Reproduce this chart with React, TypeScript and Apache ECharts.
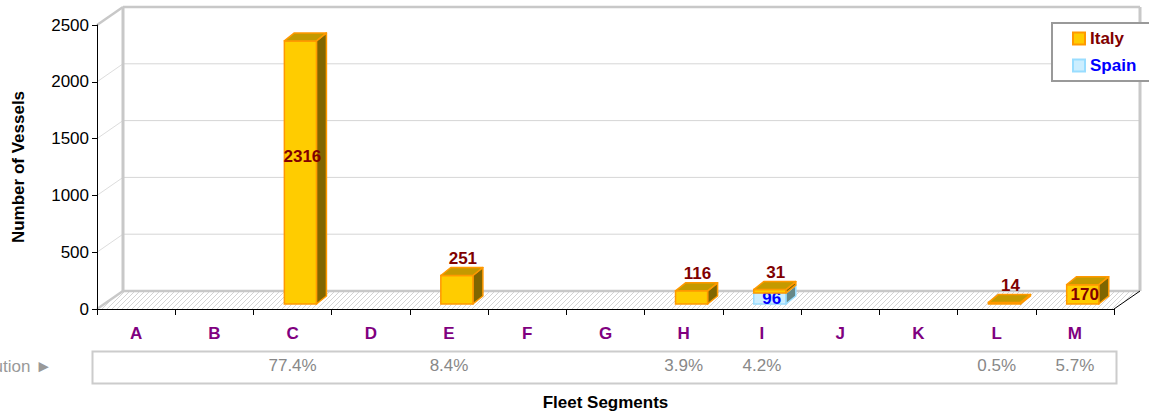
import React, { useEffect, useRef } from 'react';
import * as echarts from 'echarts';

const categories = ['A', 'B', 'C', 'D', 'E', 'F', 'G', 'H', 'I', 'J', 'K', 'L', 'M'];
const italyValues = [0, 0, 2316, 0, 251, 0, 0, 116, 31, 0, 0, 14, 170];
const spainValues = [0, 0, 0, 0, 0, 0, 0, 0, 96, 0, 0, 0, 0];
const italyLabelPlacement = ['', '', 'inside', '', 'top', '', '', 'top', 'top', '', '', 'top', 'inside'];
const spainLabelPlacement = ['', '', '', '', '', '', '', '', 'inside', '', '', '', ''];
const distribution = ['', '', '77.4%', '', '8.4%', '', '', '3.9%', '4.2%', '', '', '0.5%', '5.7%'];
const yTicks = [0, 500, 1000, 1500, 2000, 2500];

const FONT = '"Liberation Sans", Arial, Helvetica, sans-serif';
const FS = 17;
const DX = 26;
const DY = -18;
const BDX = 10;
const BDY = -8;

type Palette = { front: string; stroke: string; side: string; top: string; label: string };

const italyPalette: Palette = { front: '#ffcc00', stroke: '#ff9900', side: '#806600', top: '#c49a00', label: '#800000' };
const spainPalette: Palette = { front: '#cceeff', stroke: '#99ddff', side: '#668888', top: '#99bbcc', label: '#0000ff' };

function barRenderer(pal: Palette, placement: string[]) {
  return (params: any, api: any) => {
    const i = api.value(0);
    const v = api.value(1);
    const base = api.value(2);
    if (!v) return null;
    const bandW = api.size([1, 0])[0];
    const p0 = api.coord([i, base]);
    const p1 = api.coord([i, base + v]);
    const w = bandW * 0.41;
    const cx = api.coord([i, 0])[0] + bandW * 0.1;
    const x0 = cx - w / 2;
    const x1 = cx + w / 2;
    const yb = p0[1] - 5;
    const yt = p1[1] - 5;
    const children: any[] = [
      {
        type: 'polygon',
        shape: { points: [[x1, yb], [x1 + BDX, yb + BDY], [x1 + BDX, yt + BDY], [x1, yt]] },
        style: { fill: pal.side, stroke: pal.stroke, lineWidth: 1.5, lineJoin: 'round' },
      },
      {
        type: 'rect',
        shape: { x: x0, y: yt, width: w, height: Math.max(yb - yt, 0.5) },
        style: { fill: pal.front, stroke: pal.stroke, lineWidth: 1.5 },
      },
      {
        type: 'polygon',
        shape: { points: [[x0, yt], [x1, yt], [x1 + BDX, yt + BDY], [x0 + BDX, yt + BDY]] },
        style: { fill: pal.top, stroke: pal.stroke, lineWidth: 1.5, lineJoin: 'round' },
      },
    ];
    const place = placement[i];
    if (place) {
      const inside = place === 'inside';
      const h = yb - yt;
      children.push({
        type: 'text',
        z2: 10,
        style: {
          text: String(v),
          x: inside ? cx + 2 : cx + 6,
          y: inside ? (h > 100 ? yt + h * 0.44 : (yt + yb) / 2) : yt + BDY - 9,
          align: 'center',
          verticalAlign: 'middle',
          fill: pal.label,
          font: `bold ${FS}px ${FONT}`,
        },
      });
    }
    return { type: 'group', children };
  };
}

function wallRenderer(params: any, api: any) {
  const cs = params.coordSys;
  const xa = cs.x;
  const xb = cs.x + cs.width;
  const y0 = api.coord([0, 0])[1];
  const yTop = api.coord([0, yTicks[yTicks.length - 1]])[1];
  const children: any[] = [];
  children.push({
    type: 'polygon',
    shape: { points: [[xa, y0], [xb, y0], [xb + DX, y0 + DY], [xa + DX, y0 + DY]] },
    style: { fill: '#ffffff' },
  });
  const depth = -DY;
  const k = DX / depth;
  for (let x = xa; x <= xb + (DX - depth); x += 5) {
    const tStart = Math.max(0, x > xb ? (x - xb) / (k - 1) : 0);
    const tEnd = Math.min(depth, (x - xa) / (k - 1));
    if (tEnd <= tStart) continue;
    children.push({
      type: 'line',
      shape: { x1: x + tStart, y1: y0 - tStart, x2: x + tEnd, y2: y0 - tEnd },
      style: { stroke: '#d4d4d4', lineWidth: 1 },
    });
  }
  yTicks.forEach((t) => {
    const y = api.coord([0, t])[1];
    const edge = t === 0 || t === yTicks[yTicks.length - 1];
    children.push({
      type: 'line',
      shape: { x1: xa + DX, y1: y + DY, x2: xb + DX, y2: y + DY },
      style: { stroke: edge ? '#c8c8c8' : '#d6d6d6', lineWidth: edge ? 2.5 : 1 },
    });
    children.push({
      type: 'line',
      shape: { x1: xa, y1: y, x2: xa + DX, y2: y + DY },
      style: { stroke: edge ? '#c8c8c8' : '#dddddd', lineWidth: edge ? 2.5 : 1 },
    });
  });
  children.push({
    type: 'line',
    shape: { x1: xa + DX, y1: yTop + DY, x2: xa + DX, y2: y0 + DY },
    style: { stroke: '#c8c8c8', lineWidth: 3 },
  });
  children.push({
    type: 'line',
    shape: { x1: xb + DX, y1: yTop + DY, x2: xb + DX, y2: y0 + DY },
    style: { stroke: '#c8c8c8', lineWidth: 3 },
  });
  children.push({
    type: 'line',
    shape: { x1: xb, y1: y0, x2: xb + DX, y2: y0 + DY },
    style: { stroke: '#000000', lineWidth: 1 },
  });
  return { type: 'group', children };
}

export default function App() {
  const ref = useRef<HTMLDivElement>(null);
  useEffect(() => {
    const chart = echarts.init(ref.current!, null, { renderer: 'svg' });
    const option: any = {
      animation: false,
      textStyle: { fontFamily: FONT },
      grid: { left: 97, top: 25, width: 1017, height: 285, containLabel: false },
      legend: {
        orient: 'vertical',
        left: 1052,
        top: 23,
        padding: [7, 40, 7, 20],
        itemGap: 10,
        itemWidth: 12,
        itemHeight: 12,
        backgroundColor: '#ffffff',
        borderColor: '#999999',
        borderWidth: 2,
        borderRadius: 0,
        selectedMode: false,
        data: [
          {
            name: 'Italy',
            icon: 'rect',
            itemStyle: { color: italyPalette.front, borderColor: italyPalette.stroke, borderWidth: 2 },
            textStyle: { color: italyPalette.label, fontWeight: 'bold', fontSize: FS, fontFamily: FONT },
          },
          {
            name: 'Spain',
            icon: 'rect',
            itemStyle: { color: spainPalette.front, borderColor: spainPalette.stroke, borderWidth: 2 },
            textStyle: { color: spainPalette.label, fontWeight: 'bold', fontSize: FS, fontFamily: FONT },
          },
        ],
      },
      xAxis: [
        {
          type: 'category',
          data: categories,
          boundaryGap: true,
          axisLine: { show: true, lineStyle: { color: '#000000', width: 1 } },
          axisTick: { show: true, interval: 0, length: 6, lineStyle: { color: '#000000' } },
          axisLabel: { interval: 0, margin: 16, color: '#800080', fontWeight: 'bold', fontSize: FS, fontFamily: FONT },
          splitLine: { show: false },
          name: 'Fleet Segments',
          nameLocation: 'middle',
          nameGap: 85,
          nameTextStyle: { color: '#000000', fontWeight: 'bold', fontSize: FS, fontFamily: FONT },
        },
        {
          type: 'category',
          data: categories,
          position: 'bottom',
          offset: 40,
          boundaryGap: true,
          axisLine: { show: false },
          axisTick: { show: false },
          axisLabel: {
            interval: 0,
            margin: 8,
            color: '#888888',
            fontSize: FS,
            fontFamily: FONT,
            formatter: (_: string, idx: number) => distribution[idx],
          },
          splitLine: { show: false },
        },
      ],
      yAxis: {
        type: 'value',
        min: 0,
        max: 2500,
        interval: 500,
        axisLine: { show: true, lineStyle: { color: '#000000', width: 1 } },
        axisTick: { show: true, length: 5, lineStyle: { color: '#000000' } },
        axisLabel: { margin: 8, color: '#000000', fontSize: FS, fontFamily: FONT, formatter: (v: number) => String(v) },
        splitLine: { show: false },
        name: 'Number of Vessels',
        nameLocation: 'middle',
        nameRotate: 90,
        nameGap: 70,
        nameTextStyle: { color: '#000000', fontWeight: 'bold', fontSize: FS, fontFamily: FONT },
      },
      graphic: [
        {
          type: 'rect',
          left: 90,
          top: 349,
          shape: { width: 1024, height: 32 },
          style: { fill: 'none', stroke: '#cccccc', lineWidth: 2 },
          z: 1,
        },
        {
          type: 'text',
          x: 52,
          y: 366,
          style: {
            text: 'Distribution ►',
            align: 'right',
            verticalAlign: 'middle',
            fill: '#999999',
            font: `${FS}px ${FONT}`,
          },
        },
      ],
      series: [
        {
          name: 'wall',
          type: 'custom',
          silent: true,
          clip: false,
          z: 0,
          renderItem: wallRenderer,
          data: [[0, 0]],
        },
        {
          name: 'Spain',
          type: 'custom',
          clip: false,
          z: 3,
          itemStyle: { color: spainPalette.front },
          renderItem: barRenderer(spainPalette, spainLabelPlacement),
          encode: { x: 0, y: 1 },
          data: categories.map((_, i) => [i, spainValues[i], 0]),
        },
        {
          name: 'Italy',
          type: 'custom',
          clip: false,
          z: 4,
          itemStyle: { color: italyPalette.front },
          renderItem: barRenderer(italyPalette, italyLabelPlacement),
          encode: { x: 0, y: 1 },
          data: categories.map((_, i) => [i, italyValues[i], spainValues[i]]),
        },
      ],
    };
    chart.setOption(option);
    return () => chart.dispose();
  }, []);
  return <div ref={ref} style={{ position: 'absolute', left: 0, top: 0, width: 1149, height: 416 }} />;
}
